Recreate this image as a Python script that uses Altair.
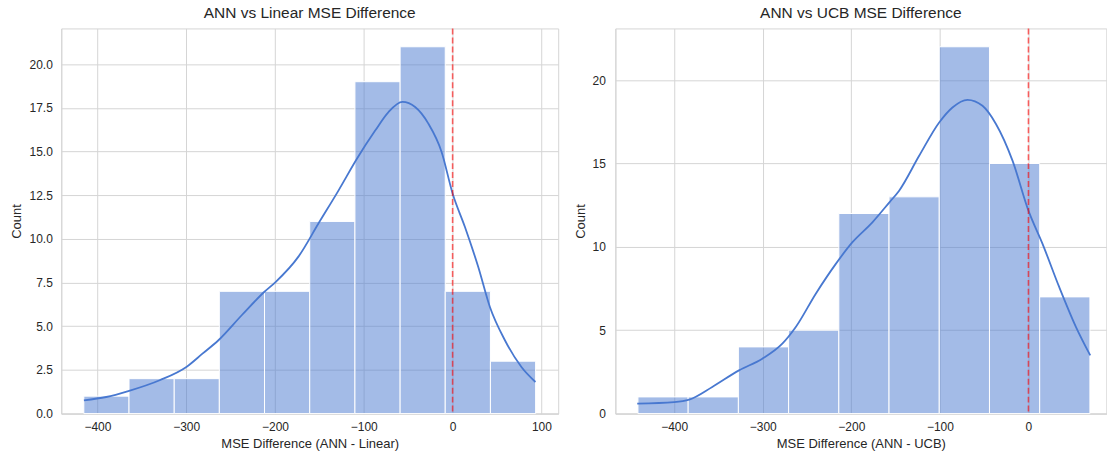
import altair as alt
import pandas as pd

# ---------------- data ----------------
left_bin_edges = [-415.3, -364.4, -313.5, -262.7, -211.8, -160.9, -110.0, -59.1, -8.3, 42.6, 93.5]
left_counts = [1, 2, 2, 7, 7, 11, 19, 21, 7, 3]
left_kde_x = [-415.2, -390.1, -365.2, -329.9, -299.8, -281.7, -263.7, -237.5, -212.2, -199.4,
              -173.4, -151.1, -128.4, -107.6, -87.2, -72.2, -56.5, -42.2, -27.3, -12.4,
              0.0, 13.9, 28.9, 42.0, 58.9, 77.5, 93.3]
left_kde_y = [0.76, 0.95, 1.29, 1.91, 2.67, 3.43, 4.2, 5.63, 6.96, 7.53,
              9.0, 10.88, 12.78, 14.6, 16.2, 17.26, 17.84, 17.55, 16.6, 14.98,
              12.6, 10.68, 8.39, 6.1, 4.2, 2.67, 1.81]

right_bin_edges = [-440.9, -384.2, -327.5, -270.8, -214.1, -157.4, -100.7, -44.0, 12.7, 69.4]
right_counts = [1, 1, 4, 5, 12, 13, 22, 15, 7]
right_kde_x = [-441.7, -400.0, -383.0, -357.0, -326.8, -300.5, -277.9, -262.7, -240.1, -217.5,
               -198.7, -176.2, -157.0, -146.0, -123.4, -100.8, -85.8, -68.8, -51.9, -36.7,
               -18.0, 0.0, 15.9, 34.8, 53.7, 69.8]
right_kde_y = [0.6, 0.69, 0.84, 1.6, 2.59, 3.29, 4.19, 5.19, 7.19, 8.98,
               10.28, 11.47, 12.67, 13.37, 15.46, 17.46, 18.36, 18.82, 18.46, 17.37,
               15.17, 12.17, 10.18, 7.58, 5.19, 3.49]

zero_line = [0]

left_xticks = [-400, -300, -200, -100, 0, 100]
left_yticks = [0, 2.5, 5, 7.5, 10, 12.5, 15, 17.5, 20]
right_xticks = [-400, -300, -200, -100, 0]
right_yticks = [0, 5, 10, 15, 20]

left_title = "ANN vs Linear MSE Difference"
right_title = "ANN vs UCB MSE Difference"
left_xlabel = "MSE Difference (ANN - Linear)"
right_xlabel = "MSE Difference (ANN - UCB)"
ylabel = "Count"

BLUE = "#4878d0"
GRID = "#d5d5d5"
TEXT = "#262626"


def panel(edges, counts, kx, ky, xdom, ydom, xticks, yticks, yfmt, title, xlabel,
          width, height, ylabpad, ytitlepad):
    bars_df = pd.DataFrame({"start": edges[:-1], "end": edges[1:], "count": counts})
    kde_df = pd.DataFrame({"x": kx, "y": ky})
    zero_df = pd.DataFrame({"x": zero_line})

    xscale = alt.Scale(domain=xdom, nice=False, zero=False)
    yscale = alt.Scale(domain=ydom, nice=False)
    xaxis = alt.Axis(values=xticks, title=xlabel, labelPadding=8, titlePadding=5,
                     labelFlush=False, ticks=False, grid=True, domain=True)
    yaxis = alt.Axis(values=yticks, format=yfmt, title=ylabel, labelPadding=ylabpad,
                     titlePadding=ytitlepad, ticks=False, grid=True, domain=True)

    bars = alt.Chart(bars_df).mark_rect(
        color=BLUE, fillOpacity=0.5, stroke="white", strokeWidth=1
    ).encode(
        x=alt.X("start:Q", scale=xscale, axis=xaxis, title=xlabel),
        x2="end:Q",
        y=alt.Y("count:Q", scale=yscale, axis=yaxis, title=ylabel),
        y2=alt.datum(0),
    )
    kde = alt.Chart(kde_df).mark_line(
        color=BLUE, strokeWidth=1.8, interpolate="monotone"
    ).encode(
        x=alt.X("x:Q", title=xlabel),
        y=alt.Y("y:Q", title=ylabel),
    )
    vline = alt.Chart(zero_df).mark_rule(
        color="red", strokeDash=[6, 3], strokeWidth=1.6, opacity=0.6
    ).encode(x=alt.X("x:Q", title=xlabel))

    return alt.layer(bars, kde, vline).properties(
        width=width, height=height,
        title=alt.TitleParams(title, fontSize=15.5, fontWeight="normal", color=TEXT,
                              offset=6, anchor="middle"),
    )


left = panel(left_bin_edges, left_counts, left_kde_x, left_kde_y,
             [-440.7, 118.9], [0, 22.05], left_xticks, left_yticks, ".1f",
             left_title, left_xlabel, 498, 386, 9, 6)
right = panel(right_bin_edges, right_counts, right_kde_x, right_kde_y,
              [-466.4, 87.9], [0, 23.1], right_xticks, right_yticks, "d",
              right_title, right_xlabel, 492, 386, 10, 5)

chart = alt.hconcat(left, right, spacing=14.3).properties(
    padding={"left": 9.4, "top": 5, "right": 0, "bottom": 0},
    background="white",
).configure(font="Liberation Sans").configure_axis(
    labelFontSize=12, titleFontSize=13, labelColor=TEXT, titleColor=TEXT,
    titleFontWeight="normal", gridColor=GRID, gridWidth=1,
    domainColor=GRID, domainWidth=1,
).configure_view(stroke=GRID, strokeWidth=1)

chart.save("out.html", embed_options={"renderer": "svg", "actions": False})
